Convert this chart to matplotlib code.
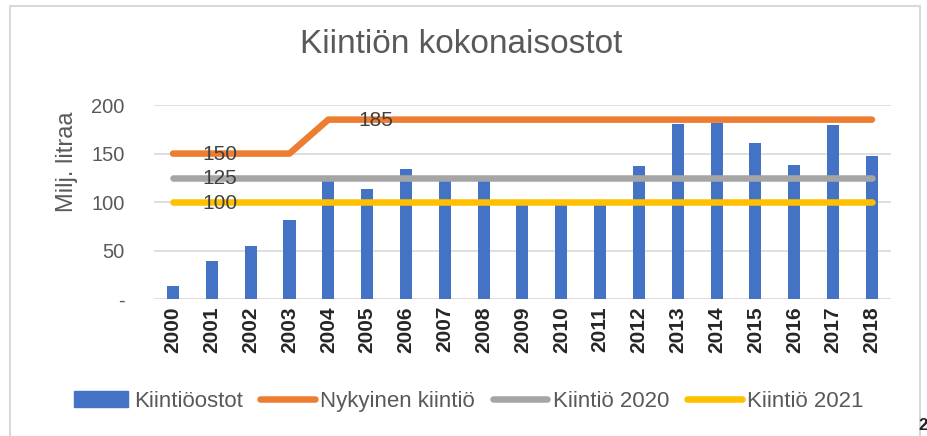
import matplotlib.pyplot as plt
from matplotlib.patches import Rectangle
from matplotlib.lines import Line2D

plt.rcParams['font.family'] = ['Liberation Sans', 'DejaVu Sans']

years = [str(y) for y in range(2000, 2019)]
ostot = [13, 39, 55, 82, 124, 113, 134, 124, 124, 98, 98, 98, 137, 180, 182, 161, 138, 179, 147]
nykyinen = [150, 150, 150, 150, 185, 185, 185, 185, 185, 185, 185, 185, 185, 185, 185, 185, 185, 185, 185]
kiintio_2020 = [125] * 19
kiintio_2021 = [100] * 19

blue = "#4472C4"
orange = "#ED7D31"
grey = "#A5A5A5"
yellow = "#FFC000"
txt = "#595959"

fig = plt.figure(figsize=(9.28, 4.36), dpi=100)
ax = fig.add_axes([0.1655, 0.314, 0.795, 0.445])

x = list(range(len(years)))
ax.bar(x, ostot, width=0.31, color=blue, zorder=2, label="Kiintiöostot")
lw = 4.7
ax.plot(x, nykyinen, color=orange, lw=lw, solid_capstyle='round', zorder=3, label="Nykyinen kiintiö")
ax.plot(x, kiintio_2020, color=grey, lw=lw, solid_capstyle='round', zorder=3, label="Kiintiö 2020")
ax.plot(x, kiintio_2021, color=yellow, lw=lw, solid_capstyle='round', zorder=3, label="Kiintiö 2021")

# data labels
lab = "#404040"
ax.text(1.21, nykyinen[1] - 1, "150", fontsize=15, color=lab, ha='center', va='center', zorder=4)
ax.text(5.22, nykyinen[5] - 1, "185", fontsize=15, color=lab, ha='center', va='center', zorder=4)
ax.text(1.21, kiintio_2020[1] - 1, "125", fontsize=15, color=lab, ha='center', va='center', zorder=4)
ax.text(1.21, kiintio_2021[1] - 1, "100", fontsize=15, color=lab, ha='center', va='center', zorder=4)

ax.set_xlim(-0.5, len(years) - 0.5)
ax.set_ylim(0, 200)
ax.set_yticks([0, 50, 100, 150, 200])
ax.set_yticklabels(["-", "50", "100", "150", "200"])
ax.set_xticks(x)
ax.set_xticklabels(years, rotation=90, fontsize=15, fontweight='bold', color="#262626")
ax.tick_params(axis='y', labelsize=14.5, colors=txt, length=0, pad=21)
ax.tick_params(axis='x', length=0, pad=5)
ax.grid(axis='y', color="#D9D9D9", lw=1.2, zorder=0)
for s in ax.spines.values():
    s.set_visible(False)

ax.set_ylabel("Milj. litraa", fontsize=17, color=txt)
ax.yaxis.set_label_coords(-0.103, 0.71)
fig.text(0.497, 0.897, "Kiintiön kokonaisostot", fontsize=24, color=txt, ha='center', va='center')

handles = [Rectangle((0, 0), 1, 1, color=blue),
           Line2D([], [], color=orange, lw=lw, solid_capstyle='round'),
           Line2D([], [], color=grey, lw=lw, solid_capstyle='round'),
           Line2D([], [], color=yellow, lw=lw, solid_capstyle='round')]
labels = ["Kiintiöostot", "Nykyinen kiintiö", "Kiintiö 2020", "Kiintiö 2021"]
fig.legend(handles, labels, loc='center', bbox_to_anchor=(0.505, 0.080), ncol=4, frameon=False,
           fontsize=16, labelcolor=txt, handlelength=2.45, handletextpad=0.25, columnspacing=0.8)

# outer chart border
fig.patches.append(Rectangle((0.011, -0.05), 0.98, 1.036, transform=fig.transFigure,
                             fill=False, edgecolor="#D9D9D9", lw=1.5))
fig.text(1.0, 0.025, "2", fontsize=12, fontweight='bold', color="#222222", ha='right', va='center')

fig.savefig("out.png", dpi=100)
